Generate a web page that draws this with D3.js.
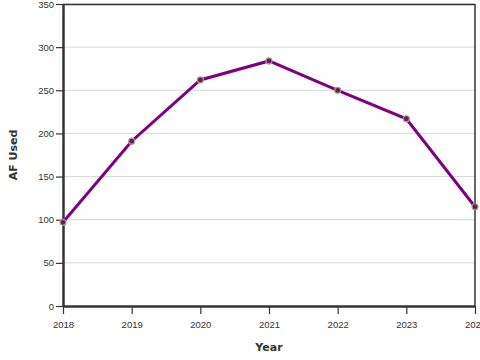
<!DOCTYPE html>
<html>
<head>
<meta charset="utf-8">
<script src="https://cdn.jsdelivr.net/npm/d3@7"></script>
<style>
body { margin:0; background:#fff; overflow:hidden; }
svg { display:block; font-family:"DejaVu Sans", sans-serif; }
.tick text { font-size:9.5px; fill:#333; }
</style>
</head>
<body>
<svg id="chart" width="480" height="360"></svg>
<script>
var years = [2018, 2019, 2020, 2021, 2022, 2023, 2024];
var afUsed = [97, 191, 262, 284, 250, 217, 115];
var yTicks = [0, 50, 100, 150, 200, 250, 300, 350];

var margin = {left: 63, top: 4, right: 5, bottom: 54};
var w = 475 - margin.left;
var h = 306 - margin.top;

var svg = d3.select("#chart");
var g = svg.append("g").attr("transform", "translate(" + margin.left + "," + margin.top + ")");

var x = d3.scaleLinear().domain([2018, 2024]).range([0, w]);
var y = d3.scaleLinear().domain([0, 350]).range([h, 0]);

// gridlines
g.selectAll("line.grid")
    .data(yTicks.filter(function(d) { return d > 0; }))
    .enter().append("line")
    .attr("class", "grid")
    .attr("x1", 0).attr("x2", w)
    .attr("y1", function(d) { return y(d); })
    .attr("y2", function(d) { return y(d); })
    .style("stroke", "#d8d8d8").style("stroke-width", 1);

// frame top and right
g.append("line").attr("x1", 0).attr("x2", w).attr("y1", 0.5).attr("y2", 0.5)
    .style("stroke", "#333").style("stroke-width", 1.5);
g.append("line").attr("x1", w).attr("x2", w).attr("y1", 0).attr("y2", h)
    .style("stroke", "#333").style("stroke-width", 1.5);

var xAxis = g.append("g").attr("transform", "translate(0," + h + ")")
    .call(d3.axisBottom(x).tickValues(years).tickFormat(d3.format("d")).tickSize(8).tickSizeOuter(0));
xAxis.select(".domain").style("stroke", "#333").style("stroke-width", 2.5);
xAxis.selectAll(".tick line").style("stroke", "#333").style("stroke-width", 1.2);
xAxis.selectAll(".tick text").attr("dy", "1.2em");

var yAxis = g.append("g")
    .call(d3.axisLeft(y).tickValues(yTicks).tickSize(7).tickSizeOuter(0));
yAxis.select(".domain").style("stroke", "#333").style("stroke-width", 2.5);
yAxis.selectAll(".tick line").style("stroke", "#333").style("stroke-width", 1.2);
yAxis.selectAll(".tick text").attr("x", -9);

// line
var data = years.map(function(yr, i) { return {year: yr, v: afUsed[i]}; });
g.append("path")
    .datum(data)
    .attr("d", d3.line().x(function(d) { return x(d.year); }).y(function(d) { return y(d.v); }))
    .style("fill", "none").style("stroke", "#800080").style("stroke-width", 3);

g.selectAll("circle.pt")
    .data(data)
    .enter().append("circle")
    .attr("class", "pt")
    .attr("cx", function(d) { return x(d.year); })
    .attr("cy", function(d) { return y(d.v); })
    .attr("r", 3)
    .style("fill", "#6a1a5a")
    .style("stroke", "#a89a8a").style("stroke-width", 1.2);

// axis titles
svg.append("text")
    .attr("x", margin.left + w / 2).attr("y", 351)
    .attr("text-anchor", "middle")
    .style("font-size", "11px").style("font-weight", "bold").style("fill", "#333")
    .text("Year");
svg.append("text")
    .attr("transform", "translate(17," + (margin.top + h / 2) + ") rotate(-90)")
    .attr("text-anchor", "middle")
    .style("font-size", "11px").style("font-weight", "bold").style("fill", "#333")
    .text("AF Used");
</script>
</body>
</html>
